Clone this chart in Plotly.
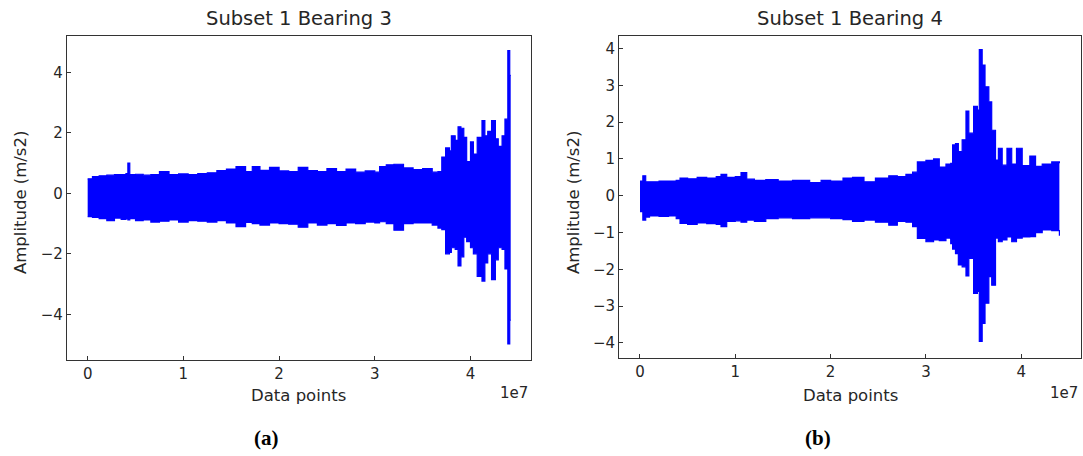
import plotly.graph_objects as go

# ---------------- data (x in units of 1e7 data points, amplitude in m/s2) -------------
x_a = [0.00, 0.05, 0.12, 0.20, 0.28, 0.35, 0.40, 0.42, 0.44, 0.50, 0.58, 0.66, 0.75, 0.85,
       0.95, 1.05, 1.15, 1.25, 1.35, 1.45, 1.55, 1.65, 1.72, 1.80, 1.90, 2.00, 2.10, 2.20,
       2.30, 2.40, 2.50, 2.60, 2.70, 2.80, 2.90, 3.00, 3.05, 3.12, 3.20, 3.30, 3.40, 3.50,
       3.60, 3.66, 3.70, 3.74, 3.78, 3.80, 3.84, 3.87, 3.90, 3.93, 3.96, 4.00, 4.03, 4.07,
       4.12, 4.15, 4.18, 4.22, 4.26, 4.29, 4.33, 4.36, 4.39, 4.41, 4.42]
upper_a = [0.48, 0.55, 0.58, 0.60, 0.62, 0.62, 0.65, 1.00, 0.62, 0.63, 0.60, 0.62, 0.72, 0.62,
           0.64, 0.62, 0.65, 0.68, 0.75, 0.80, 0.88, 0.72, 0.88, 0.76, 0.86, 0.74, 0.72, 0.86,
           0.75, 0.72, 0.82, 0.72, 0.80, 0.70, 0.74, 0.70, 0.88, 0.94, 0.96, 0.84, 0.78, 0.82,
           0.70, 0.72, 1.20, 1.50, 1.40, 1.90, 1.75, 2.20, 2.15, 1.85, 1.05, 1.70, 1.30, 1.85,
           2.40, 1.90, 2.05, 2.40, 1.80, 1.55, 1.90, 2.45, 4.72, 3.90, 3.90]
lower_a = [-0.77, -0.80, -0.84, -0.90, -0.82, -0.86, -0.84, -0.88, -0.84, -0.90, -0.88, -0.95,
           -0.92, -0.88, -0.95, -0.90, -0.92, -0.95, -0.90, -0.98, -1.10, -0.96, -1.00, -1.05,
           -0.98, -1.00, -1.02, -1.12, -0.98, -1.05, -1.00, -1.06, -0.98, -1.00, -0.95, -0.98,
           -0.94, -1.00, -1.22, -1.00, -0.98, -0.98, -1.05, -1.15, -1.20, -2.00, -1.95, -1.80,
           -1.85, -2.40, -2.10, -1.45, -1.60, -1.80, -2.00, -2.75, -2.90, -2.30, -2.00, -2.85,
           -2.20, -1.80, -1.85, -2.50, -4.98, -4.20, -4.20]

x_b = [0.00, 0.03, 0.06, 0.10, 0.20, 0.30, 0.38, 0.42, 0.50, 0.60, 0.70, 0.80, 0.85, 0.91,
       1.00, 1.06, 1.12, 1.20, 1.32, 1.45, 1.60, 1.78, 1.90, 2.00, 2.13, 2.23, 2.35, 2.47,
       2.61, 2.70, 2.79, 2.86, 2.91, 3.00, 3.08, 3.14, 3.21, 3.26, 3.28, 3.31, 3.34, 3.38,
       3.42, 3.45, 3.50, 3.54, 3.56, 3.59, 3.62, 3.66, 3.69, 3.73, 3.76, 3.80, 3.85, 3.90,
       3.95, 4.01, 4.09, 4.15, 4.22, 4.32, 4.40]
upper_b = [0.40, 0.54, 0.38, 0.38, 0.40, 0.40, 0.42, 0.48, 0.46, 0.50, 0.48, 0.52, 0.58, 0.50,
           0.52, 0.63, 0.45, 0.42, 0.44, 0.40, 0.42, 0.36, 0.42, 0.40, 0.48, 0.50, 0.38, 0.48,
           0.54, 0.52, 0.58, 0.64, 0.92, 0.96, 1.00, 0.78, 0.86, 0.88, 1.38, 1.42, 1.20, 1.52,
           2.30, 1.70, 2.43, 2.33, 3.97, 3.55, 2.96, 2.55, 1.78, 0.97, 1.29, 0.83, 1.29, 0.86,
           1.29, 0.82, 1.08, 0.80, 0.86, 0.92, 0.88]
lower_b = [-0.43, -0.66, -0.58, -0.55, -0.56, -0.55, -0.62, -0.75, -0.78, -0.74, -0.76, -0.78,
           -0.84, -0.70, -0.68, -0.72, -0.66, -0.70, -0.62, -0.60, -0.62, -0.60, -0.60, -0.62,
           -0.65, -0.70, -0.66, -0.72, -0.80, -0.70, -0.72, -0.84, -1.16, -1.25, -1.20, -1.22,
           -1.15, -1.30, -1.45, -1.57, -1.88, -1.93, -2.18, -1.70, -2.65, -2.60, -3.96, -3.47,
           -2.92, -2.20, -2.43, -1.15, -1.25, -1.20, -1.12, -1.25, -1.15, -1.12, -1.11, -1.00,
           -0.93, -0.95, -1.09]

titles = ["Subset 1 Bearing 3", "Subset 1 Bearing 4"]
panel_labels = ["(a)", "(b)"]
x_ticks = [0, 1, 2, 3, 4]
x_ticktext = ["0", "1", "2", "3", "4"]
y_ticks_a = [-4, -2, 0, 2, 4]
y_ticks_b = [-4, -3, -2, -1, 0, 1, 2, 3, 4]

# ---------------- figure ----------------
W, H = 1083, 456
BLUE = "#0000ff"
AX = "#333333"
TXT = "#262626"
FONT = "DejaVu Sans"

fig = go.Figure()

def add_signal(x, lo, up, xa, ya):
    fig.add_trace(go.Scatter(x=x, y=lo, mode="lines", line=dict(color=BLUE, width=1.2, shape="hv"),
                             xaxis=xa, yaxis=ya, showlegend=False, hoverinfo="skip"))
    fig.add_trace(go.Scatter(x=x, y=up, mode="lines", line=dict(color=BLUE, width=1.2, shape="hv"),
                             fill="tonexty", fillcolor=BLUE,
                             xaxis=xa, yaxis=ya, showlegend=False, hoverinfo="skip"))

add_signal(x_a, lower_a, upper_a, "x", "y")
add_signal(x_b, lower_b, upper_b, "x2", "y2")

def px_x(p):
    return p / W

def px_y(p):
    return 1 - p / H

axis_common = dict(showgrid=False, zeroline=False, showline=True, linecolor=AX, linewidth=1.3,
                   mirror=True, ticks="inside", ticklen=4, tickwidth=1, tickcolor=AX,
                   tickfont=dict(family=FONT, size=15, color=TXT))

fig.update_layout(
    width=W, height=H, margin=dict(l=0, r=0, t=0, b=0),
    paper_bgcolor="white", plot_bgcolor="white",
    xaxis=dict(domain=[px_x(67), px_x(530.7)], range=[-0.216, 4.629], anchor="y",
               tickvals=x_ticks, ticktext=x_ticktext, **axis_common),
    yaxis=dict(domain=[px_y(360), px_y(36)], range=[-5.51, 5.20], anchor="x",
               tickvals=y_ticks_a, **axis_common),
    xaxis2=dict(domain=[px_x(619.3), px_x(1081.3)], range=[-0.217, 4.630], anchor="y2",
                tickvals=x_ticks, ticktext=x_ticktext, **axis_common),
    yaxis2=dict(domain=[px_y(357.7), px_y(36)], range=[-4.40, 4.34], anchor="x2",
                tickvals=y_ticks_b, **axis_common),
)

ann = []
panels = [(67, 530.7, 20), (619.3, 1081.3, 573)]
for i, (l, r, ylab_x) in enumerate(panels):
    cx = (l + r) / 2
    ann.append(dict(x=px_x(cx), y=px_y(18), xref="paper", yref="paper", text=titles[i],
                    showarrow=False, font=dict(family=FONT, size=19.5, color=TXT),
                    xanchor="center", yanchor="middle"))
    ann.append(dict(x=px_x(cx), y=px_y(395), xref="paper", yref="paper", text="Data points",
                    showarrow=False, font=dict(family=FONT, size=16.5, color=TXT),
                    xanchor="center", yanchor="middle"))
    ann.append(dict(x=px_x(r - 1), y=px_y(393), xref="paper", yref="paper", text="1e7",
                    showarrow=False, font=dict(family=FONT, size=15, color=TXT),
                    xanchor="right", yanchor="middle"))
    ann.append(dict(x=px_x(ylab_x), y=px_y(203), xref="paper", yref="paper",
                    text="Amplitude (m/s2)", textangle=-90,
                    showarrow=False, font=dict(family=FONT, size=16.5, color=TXT),
                    xanchor="center", yanchor="middle"))
    ann.append(dict(x=px_x(cx - 32), y=px_y(438), xref="paper", yref="paper",
                    text="<b>" + panel_labels[i] + "</b>",
                    showarrow=False, font=dict(family="Liberation Serif", size=21, color="black"),
                    xanchor="center", yanchor="middle"))
fig.update_layout(annotations=ann)

# remove the page's default 8px body margin so the figure fills the window exactly
fig.write_html("out.html", config={"displayModeBar": False},
               post_script="document.body.style.margin='0';document.body.style.overflow='hidden';")
